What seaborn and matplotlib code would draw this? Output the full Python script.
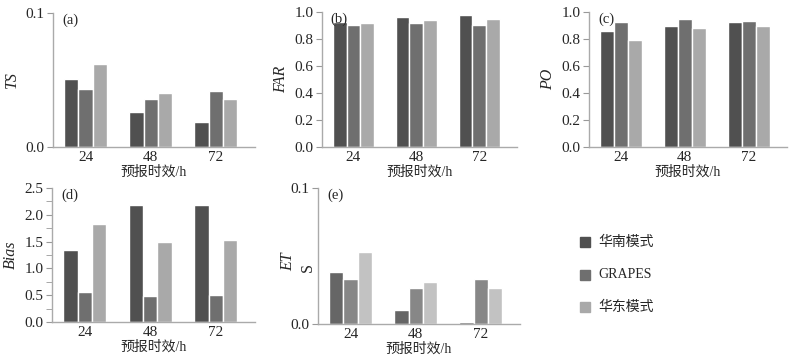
import matplotlib
matplotlib.use("Agg")
import matplotlib.pyplot as plt
import seaborn as sns
import pandas as pd
import numpy as np
from matplotlib.patches import Rectangle

sns.set_style("white")
plt.rcParams["font.family"] = ["Liberation Serif", "Noto Sans CJK SC"]

# data
lead_times = ["24", "48", "72"]
models = ["华南模式", "GRAPES", "华东模式"]

ts_south = [0.051, 0.026, 0.0185]
ts_grapes = [0.043, 0.036, 0.042]
ts_east = [0.062, 0.040, 0.036]

far_south = [0.925, 0.965, 0.978]
far_grapes = [0.906, 0.916, 0.903]
far_east = [0.916, 0.940, 0.948]

po_south = [0.862, 0.896, 0.928]
po_grapes = [0.928, 0.946, 0.933]
po_east = [0.793, 0.881, 0.896]

bias_south = [1.34, 2.18, 2.18]
bias_grapes = [0.56, 0.49, 0.50]
bias_east = [1.82, 1.49, 1.53]

ets_south = [0.0384, 0.010, 0.0012]
ets_grapes = [0.033, 0.0267, 0.033]
ets_east = [0.0526, 0.031, 0.0262]

colors = ["#505050", "#6f6f6f", "#a9a9a9"]
colors_e = ["#666666", "#878787", "#c2c2c2"]


def long_df(a, b, c):
    rows = []
    for vals, m in zip([a, b, c], models):
        for t, v in zip(lead_times, vals):
            rows.append({"lead": t, "model": m, "value": v})
    return pd.DataFrame(rows)


fig = plt.figure(figsize=(7.98, 3.6), dpi=100)
W, H = 798, 360


def make_ax(l, t, r, b):
    return fig.add_axes([l / W, 1 - b / H, (r - l) / W, (b - t) / H])


panels = [
    # (data, box, ylim, yticks, ylabel, letter, palette)
    ((ts_south, ts_grapes, ts_east), (53, 13, 255, 147), (0, 0.1), [0.0, 0.1], "TS", "(a)", colors),
    ((far_south, far_grapes, far_east), (322, 12, 517, 147), (0, 1.0), np.arange(0, 1.01, 0.2), "FAR", "(b)", colors),
    ((po_south, po_grapes, po_east), (589, 12, 787, 147), (0, 1.0), np.arange(0, 1.01, 0.2), "PO", "(c)", colors),
    ((bias_south, bias_grapes, bias_east), (52, 188, 255, 322), (0, 2.5), np.arange(0, 2.51, 0.5), "Bias", "(d)", colors),
    ((ets_south, ets_grapes, ets_east), (318, 188, 520, 324), (0, 0.1), [0.0, 0.1], None, "(e)", colors_e),
]

for data, box, ylim, yticks, ylabel, letter, pal in panels:
    ax = make_ax(*box)
    df = long_df(*data)
    sns.barplot(data=df, x="lead", y="value", hue="model", hue_order=models,
                palette=pal, width=0.66, saturation=1, ax=ax, legend=False)
    ax.set_xlim(-0.5, 2.6)
    ax.set_ylim(*ylim)
    ax.set_yticks(yticks)
    ax.set_yticklabels([f"{v:.1f}" for v in yticks])
    ax.set_xticks([-0.5, 0.5, 1.5, 2.5], minor=True)
    ax.tick_params(axis="x", which="major", length=0, labelsize=11, pad=3)
    ax.tick_params(axis="x", which="minor", length=4, color="#999999")
    ax.tick_params(axis="y", which="major", length=4, color="#999999", labelsize=11,
                   pad=2, direction="out", left=True)
    if letter == "(d)":
        ax.set_yticks(np.arange(0.25, 2.5, 0.5), minor=True)
        ax.tick_params(axis="y", which="minor", length=4, color="#999999", left=True)
    for s in ["top", "right"]:
        ax.spines[s].set_visible(False)
    for s in ["left", "bottom"]:
        ax.spines[s].set_color("#aaaaaa")
        ax.spines[s].set_linewidth(1.0)
    ax.set_xlabel("预报时效/h", fontsize=10, labelpad=1)
    if ylabel:
        ax.set_ylabel(ylabel, fontsize=11.5, style="italic", labelpad=4)
    else:
        ax.set_ylabel("")
    ax.text(0.045, 0.995, letter, transform=ax.transAxes, fontsize=10.5,
            ha="left", va="top")

# split ETS label like in the original
fig.text(288 / W, 1 - 262 / H, "ET", rotation=90, style="italic", fontsize=11.5,
         ha="center", va="center")
fig.text(308 / W, 1 - 267 / H, "S", rotation=90, fontsize=11.5,
         ha="center", va="center")

# legend
for i, (m, c) in enumerate(zip(models, colors)):
    y = [242, 275, 307][i]
    fig.patches.append(Rectangle(((585 - 5) / W, 1 - (y + 5) / H), 10 / W, 10 / H,
                                 transform=fig.transFigure, color=c, figure=fig))
    fig.text(598 / W, 1 - y / H, m, fontsize=10, ha="left", va="center")

fig.savefig("out.png", dpi=100)
